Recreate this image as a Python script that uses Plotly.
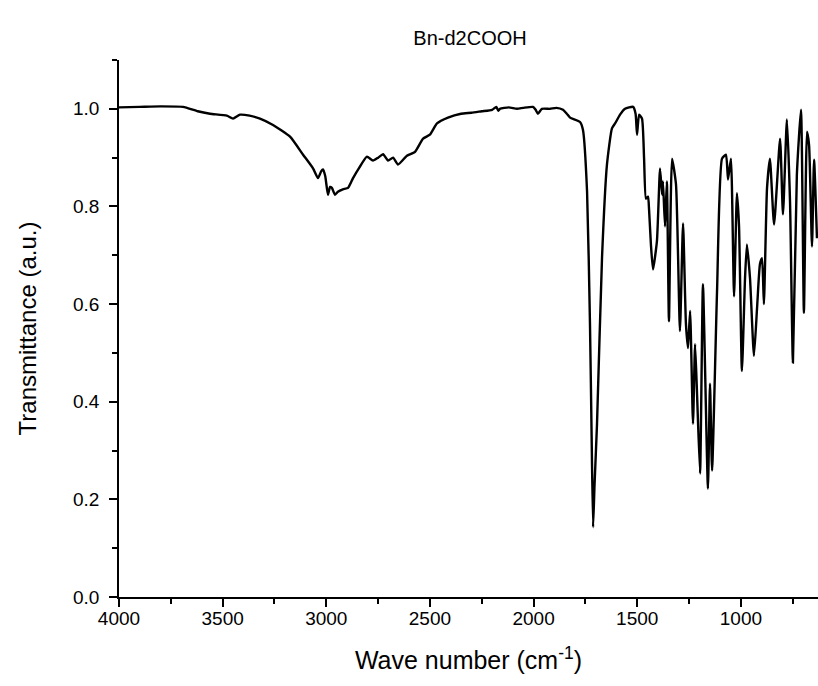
import plotly.graph_objects as go

wavenumber = [
    4000, 3900, 3800, 3691, 3620, 3561, 3480, 3450, 3416, 3370, 3320, 3257, 3175, 3112, 3064,
    3040, 3025, 3016, 3005, 2992, 2982, 2973, 2958, 2944, 2920, 2895, 2871, 2840, 2804, 2775,
    2750, 2726, 2702, 2678, 2654, 2611, 2572, 2533, 2500, 2466, 2413, 2350, 2300, 2250, 2200,
    2180, 2170, 2162, 2120, 2080, 2050, 2003, 1990, 1979, 1960, 1921, 1890, 1858, 1840, 1824,
    1776, 1762, 1742, 1728, 1720, 1713, 1706, 1694, 1670, 1646, 1622, 1607, 1583, 1559, 1520,
    1508, 1501, 1491, 1477, 1467, 1458, 1448, 1443, 1434, 1424, 1405, 1390, 1380, 1376, 1366,
    1357, 1347, 1332, 1313, 1294, 1279, 1265, 1255, 1245, 1231, 1221, 1212, 1197, 1183, 1159,
    1149, 1139, 1115, 1091, 1072, 1062, 1048, 1033, 1019, 1009, 995, 980, 971, 956, 937,
    922, 908, 898, 889, 874, 860, 840, 811, 797, 778, 763, 749, 730, 710, 696,
    681, 671, 657, 647, 633,
]
transmittance = [
    1.003, 1.004, 1.005, 1.004, 0.995, 0.990, 0.986, 0.980, 0.988, 0.986, 0.980, 0.967, 0.943, 0.906, 0.878,
    0.858, 0.872, 0.876, 0.862, 0.824, 0.840, 0.838, 0.824, 0.830, 0.835, 0.838, 0.858, 0.880, 0.902, 0.894,
    0.900, 0.907, 0.894, 0.900, 0.886, 0.904, 0.912, 0.939, 0.947, 0.970, 0.982, 0.990, 0.992, 0.995, 0.998,
    1.004, 0.996, 1.000, 1.003, 1.000, 1.002, 1.004, 0.998, 0.990, 1.000, 1.000, 1.002, 0.998, 0.990, 0.982,
    0.973, 0.957, 0.830, 0.559, 0.330, 0.143, 0.230, 0.355, 0.694, 0.886, 0.960, 0.970, 0.988, 1.000, 1.004,
    0.990, 0.947, 0.988, 0.980, 0.898, 0.816, 0.820, 0.794, 0.722, 0.671, 0.729, 0.878, 0.824, 0.851, 0.759,
    0.851, 0.565, 0.898, 0.845, 0.545, 0.765, 0.559, 0.510, 0.586, 0.355, 0.518, 0.422, 0.253, 0.641, 0.222,
    0.437, 0.259, 0.627, 0.898, 0.906, 0.855, 0.898, 0.616, 0.827, 0.760, 0.463, 0.653, 0.722, 0.653, 0.494,
    0.592, 0.682, 0.694, 0.600, 0.837, 0.898, 0.763, 0.939, 0.784, 0.978, 0.810, 0.480, 0.865, 0.998, 0.582,
    0.953, 0.925, 0.718, 0.896, 0.735,
]

title_text = "Bn-d2COOH"
x_title = "Wave number (cm<sup>-1</sup>)"
y_title = "Transmittance (a.u.)"
x_ticks = [4000, 3500, 3000, 2500, 2000, 1500, 1000]
y_ticks = [0.0, 0.2, 0.4, 0.6, 0.8, 1.0]

font_family = "Arial, Liberation Sans, sans-serif"

fig = go.Figure()
fig.add_trace(go.Scatter(
    x=wavenumber, y=transmittance, mode="lines",
    line=dict(color="black", width=2.4, shape="spline", smoothing=0.5),
    showlegend=False, hoverinfo="skip",
))

fig.update_layout(
    width=818, height=686,
    margin=dict(l=119, r=0, t=60, b=89),
    paper_bgcolor="white", plot_bgcolor="white",
    font=dict(family=font_family, color="black", size=19),
    title=dict(text=title_text, x=470 / 818, xanchor="center", y=1 - 38 / 686, yanchor="middle",
               font=dict(size=20, family=font_family, color="black")),
)

fig.update_xaxes(
    range=[4000, 628], tickmode="array", tickvals=x_ticks,
    ticktext=[str(v) for v in x_ticks],
    showline=True, linecolor="black", linewidth=1.5, mirror=False,
    ticks="outside", ticklen=8, tickwidth=1.5, tickcolor="black",
    minor=dict(dtick=250, tick0=0, ticks="outside", ticklen=5, tickwidth=1.5, tickcolor="black", showgrid=False),
    showgrid=False, zeroline=False, ticklabelstandoff=-5,
    tickfont=dict(size=19, family=font_family),
    title=dict(text=x_title, font=dict(size=25, family=font_family), standoff=24),
)
fig.update_yaxes(
    range=[0, 1.1], tickmode="array", tickvals=y_ticks,
    ticktext=[f"{v:.1f}" for v in y_ticks],
    showline=True, linecolor="black", linewidth=1.5, mirror=False,
    ticks="outside", ticklen=8, tickwidth=1.5, tickcolor="black",
    minor=dict(dtick=0.1, tick0=0.1, ticks="outside", ticklen=5, tickwidth=1.5, tickcolor="black", showgrid=False),
    showgrid=False, zeroline=False, ticklabelstandoff=6,
    tickfont=dict(size=19, family=font_family),
    title=dict(text=y_title, font=dict(size=24, family=font_family), standoff=30),
)

fig.write_html("out.html")
